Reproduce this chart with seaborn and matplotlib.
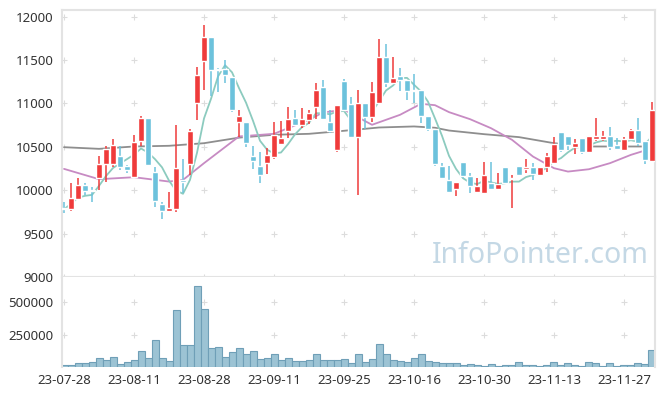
import numpy as np
import pandas as pd
import matplotlib
matplotlib.use("Agg")
import matplotlib.pyplot as plt
import seaborn as sns

# daily OHLC, 23-07-28 .. 23-12-01
opens = [9790, 9781, 9900, 10058, 10000, 10146, 10300, 10308, 10396, 10277,
         10158, 10573, 10831, 10208, 9842, 9762, 9785, 10119, 10300, 11000,
         11485, 11769, 11396, 11400, 11304, 10792, 10785, 10396, 10281, 10319,
         10381, 10527, 10677, 10831, 10746, 10812, 10954, 11189, 10788, 10458,
         11262, 10996, 10612, 11004, 10842, 11004, 11535, 11235, 11312, 11273,
         11150, 11158, 10850, 10704, 10281, 10119, 10012, 10327, 10165, 9985,
         9973, 10089, 10012, 10273, 10127, 10281, 10242, 10266, 10177, 10273,
         10312, 10669, 10627, 10496, 10600, 10435, 10588, 10588, 10627, 10519,
         10465, 10588, 10696, 10562, 10342]
highs = [9869, 10089, 10146, 10089, 10042, 10396, 10504, 10588, 10504, 10292,
         10635, 10854, 10831, 10273, 9869, 9981, 10750, 10365, 10704, 11415,
         11908, 11769, 11408, 11504, 11304, 10927, 10785, 10504, 10446, 10485,
         10788, 10800, 10958, 10919, 10942, 10927, 11235, 11273, 10927, 10981,
         11281, 11073, 11158, 11004, 11242, 11742, 11685, 11535, 11408, 11273,
         11342, 11158, 10850, 10704, 10312, 10281, 10100, 10327, 10196, 10146,
         10331, 10331, 10196, 10273, 10177, 10281, 10358, 10312, 10273, 10427,
         10619, 10669, 10627, 10588, 10600, 10627, 10838, 10677, 10727, 10600,
         10612, 10704, 10831, 10562, 11012]
lows = [9735, 9765, 9889, 9946, 9865, 10004, 10100, 10273, 10235, 10196,
        10158, 10504, 10285, 9804, 9669, 9746, 9746, 9965, 10177, 10804,
        11158, 11081, 11127, 11235, 10896, 10612, 10496, 10242, 10081, 10189,
        10365, 10527, 10604, 10735, 10712, 10765, 10819, 10812, 10658, 10446,
        10919, 10600, 9946, 10704, 10792, 11004, 11189, 11235, 11138, 11042,
        11004, 10777, 10688, 10281, 10127, 9973, 9935, 10139, 9973, 9985,
        9973, 10012, 10012, 10073, 9792, 10177, 10196, 10119, 10165, 10215,
        10312, 10446, 10465, 10412, 10412, 10435, 10562, 10562, 10458, 10458,
        10458, 10588, 10504, 10304, 10342]
closes = [9780, 9908, 10058, 9996, 9990, 10300, 10477, 10519, 10262, 10235,
          10558, 10831, 10285, 9881, 9765, 9792, 10258, 10100, 10685, 11327,
          11769, 11388, 11388, 11331, 10919, 10858, 10550, 10342, 10181, 10408,
          10639, 10604, 10823, 10746, 10823, 10889, 11158, 10819, 10688, 10981,
          10919, 10612, 11004, 10842, 11131, 11535, 11235, 11292, 11273, 11138,
          11140, 10850, 10704, 10304, 10139, 9985, 10100, 10165, 10050, 10050,
          10177, 10012, 10073, 10089, 10146, 10177, 10273, 10189, 10273, 10396,
          10535, 10458, 10523, 10542, 10435, 10627, 10627, 10627, 10496, 10473,
          10588, 10696, 10542, 10350, 10927]
volumes = [15000, 15000, 31000, 31000, 41000, 70000, 57000, 77000, 23000, 41000,
           57000, 126000, 72000, 209000, 72000, 49000, 441000, 170000, 170000, 630000,
           449000, 150000, 157000, 80000, 119000, 150000, 101000, 126000, 65000, 72000,
           101000, 57000, 72000, 46000, 46000, 57000, 101000, 57000, 57000, 57000,
           62000, 31000, 101000, 41000, 62000, 181000, 101000, 57000, 46000, 41000,
           72000, 101000, 46000, 39000, 31000, 31000, 31000, 15000, 23000, 15000,
           10000, 23000, 8000, 15000, 15000, 39000, 15000, 15000, 8000, 15000,
           39000, 15000, 31000, 15000, 8000, 39000, 31000, 8000, 31000, 8000,
           15000, 15000, 31000, 23000, 132000]

# longer moving averages (at sample days)
ma20_days = [0, 5, 10, 15, 17, 20, 25, 30, 35, 37, 40, 44, 48, 51, 53, 55, 58,
             61, 64, 67, 70, 72, 75, 78, 81, 83, 84]
ma20_vals = [10246, 10127, 10150, 10100, 10119, 10312, 10620, 10650, 10812, 10896,
             10927, 10754, 10869, 10996, 10980, 10900, 10819, 10715, 10581, 10388,
             10254, 10215, 10242, 10312, 10408, 10458, 10504]
ma60_days = [0, 5, 10, 15, 20, 25, 30, 35, 40, 45, 50, 53, 55, 60, 65, 70, 75, 80, 84]
ma60_vals = [10496, 10477, 10504, 10512, 10542, 10606, 10639, 10650, 10685, 10723,
             10735, 10720, 10688, 10646, 10612, 10542, 10504, 10504, 10504]

tick_days = [0, 10, 20, 30, 40, 50, 60, 70, 80]
tick_labels = ["23-07-28", "23-08-11", "23-08-28", "23-09-11", "23-09-25",
               "23-10-16", "23-10-30", "23-11-13", "23-11-27"]

df = pd.DataFrame({"open": opens, "high": highs, "low": lows,
                   "close": closes, "volume": volumes})
df["day"] = np.arange(len(df))
df["ma5"] = df["close"].rolling(5, min_periods=1).mean()

sns.set_style("white")
plt.rcParams["font.family"] = ["Noto Sans", "DejaVu Sans"]

RED = "#ef3b3b"
BLUE = "#6cc2dc"
GRID = "#dcdcdc"
EDGE = "#e3e3e3"

fig = plt.figure(figsize=(6.65, 3.96), dpi=100)
ax = fig.add_axes([62 / 665, 1 - 277 / 396, 593 / 665, 267 / 396])
axv = fig.add_axes([62 / 665, 1 - 367 / 396, 593 / 665, 90 / 396], sharex=ax)

# grid crosses
yt = [9000, 9500, 10000, 10500, 11000, 11500, 12000]
gx, gy = np.meshgrid(tick_days, yt)
ax.scatter(gx.ravel(), gy.ravel(), marker="+", s=14, color=GRID, lw=0.8, zorder=0)
vt = [250000, 500000]
gx2, gy2 = np.meshgrid(tick_days, vt)
axv.scatter(gx2.ravel(), gy2.ravel(), marker="+", s=14, color=GRID, lw=0.8, zorder=0)

# watermark
ax.text(0.806, 0.08, "InfoPointer.com", transform=ax.transAxes, ha="center",
        va="center", fontsize=20.5, color="#c4d8e5", zorder=1)

# moving averages
sns.lineplot(x=ma60_days, y=ma60_vals, ax=ax, color="#8e8e8e", lw=1.3, zorder=2)
sns.lineplot(x=ma20_days, y=ma20_vals, ax=ax, color="#c78bc3", lw=1.3, zorder=2)
sns.lineplot(data=df, x="day", y="ma5", ax=ax, color="#8ccbbf", lw=1.3, zorder=2)

# candles
up = df["close"] >= df["open"]
colors = np.where(up, RED, BLUE)
ax.vlines(df["day"], df["low"], df["high"], colors=colors, lw=1.1, zorder=3)
body_lo = df[["open", "close"]].min(axis=1)
body_h = (df["close"] - df["open"]).abs().clip(lower=8)
ax.bar(df["day"], body_h, bottom=body_lo, width=0.75, color=colors, zorder=4)

# volume
sns.barplot(data=df, x="day", y="volume", ax=axv, native_scale=True, width=1.0,
            color="#9cc3d4", edgecolor="#6f9fb7", linewidth=0.8, saturation=1)

ax.set_xlim(-0.29, 84.43)
ax.set_ylim(9000, 12077)
ax.set_yticks(yt)
ax.set_yticklabels([str(v) for v in yt])
axv.set_ylim(0, 697000)
axv.set_yticks(vt)
axv.set_yticklabels([str(v) for v in vt])
axv.set_xticks(tick_days)
axv.set_xticklabels(tick_labels)
ax.tick_params(axis="x", labelbottom=False, length=0)
for a in (ax, axv):
    a.set_xlabel("")
    a.set_ylabel("")
    a.tick_params(axis="y", length=0, pad=6, labelsize=9.5, labelcolor="#333333")
    for s in a.spines.values():
        s.set_color(EDGE)
        s.set_linewidth(1.5)
axv.tick_params(axis="x", length=0, pad=5, labelsize=9.5, labelcolor="#333333")
axv.spines["bottom"].set_visible(False)
axv.spines["top"].set_visible(False)

fig.savefig("out.png", dpi=100, facecolor="white")
